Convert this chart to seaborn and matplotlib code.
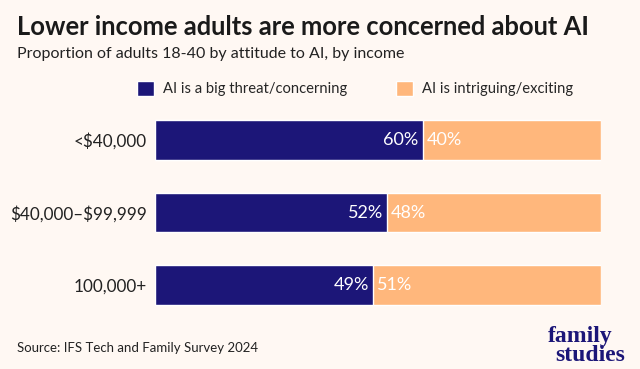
import pandas as pd
import seaborn as sns
import matplotlib.pyplot as plt
from matplotlib.patches import Patch

# Data
incomes = ["<\\$40,000", "\\$40,000\u2013\\$99,999", "100,000+"]
threat = [60, 52, 49]
exciting = [40, 48, 51]
series = ["AI is a big threat/concerning", "AI is intriguing/exciting"]

navy = "#1c1678"
orange = "#ffb77c"
bg = "#fff8f3"

df = pd.DataFrame({"income": incomes, "threat": threat, "exciting": exciting})
df["total"] = df["threat"] + df["exciting"]

sns.set_theme(style="white")
plt.rcParams["font.family"] = ["Lato", "DejaVu Sans"]

fig = plt.figure(figsize=(6.4, 3.69), dpi=100, facecolor=bg)
ax = fig.add_axes([0.242, 0.1294, 0.697, 0.5894])
ax.set_facecolor(bg)

# stacked bars: full total in orange, threat share on top in navy
sns.barplot(data=df, x="total", y="income", color=orange, width=0.55,
            orient="h", ax=ax, saturation=1)
sns.barplot(data=df, x="threat", y="income", color=navy, width=0.55,
            orient="h", ax=ax, saturation=1)

for i, row in df.iterrows():
    ax.text(row["threat"] - 0.9, i, f"{row['threat']}%", color="white",
            ha="right", va="center", fontsize=13)
    ax.text(row["threat"] + 0.9, i, f"{row['exciting']}%", color="white",
            ha="left", va="center", fontsize=13)

ax.set_xlim(0, 100)
ax.set_xlabel("")
ax.set_ylabel("")
ax.set_xticks([])
ax.tick_params(axis="y", length=0, pad=5.5, labelsize=12.3, labelcolor="#222222")
sns.despine(ax=ax, left=True, bottom=True)

fig.text(0.027, 0.905, "Lower income adults are more concerned about AI",
         fontsize=18.4, fontweight="bold", color="#1a1a1a", va="baseline")
fig.text(0.027, 0.843, "Proportion of adults 18-40 by attitude to AI, by income",
         fontsize=11.5, color="#222222", va="baseline")

handles = [Patch(facecolor=navy), Patch(facecolor=orange)]
fig.legend(handles, series, loc="center left", bbox_to_anchor=(0.194, 0.76),
           ncol=2, frameon=False, fontsize=10.6, handlelength=1.15,
           handleheight=1.15, handletextpad=0.6, columnspacing=3.3)

fig.text(0.027, 0.045, "Source: IFS Tech and Family Survey 2024",
         fontsize=9.5, color="#222222", va="baseline")
fig.text(0.856, 0.073, "family", fontsize=17, fontweight="bold",
         family="Liberation Serif", color=navy, va="baseline")
fig.text(0.868, 0.022, "studies", fontsize=17, fontweight="bold",
         family="Liberation Serif", color=navy, va="baseline")

fig.savefig("out.png", dpi=100, facecolor=bg)
